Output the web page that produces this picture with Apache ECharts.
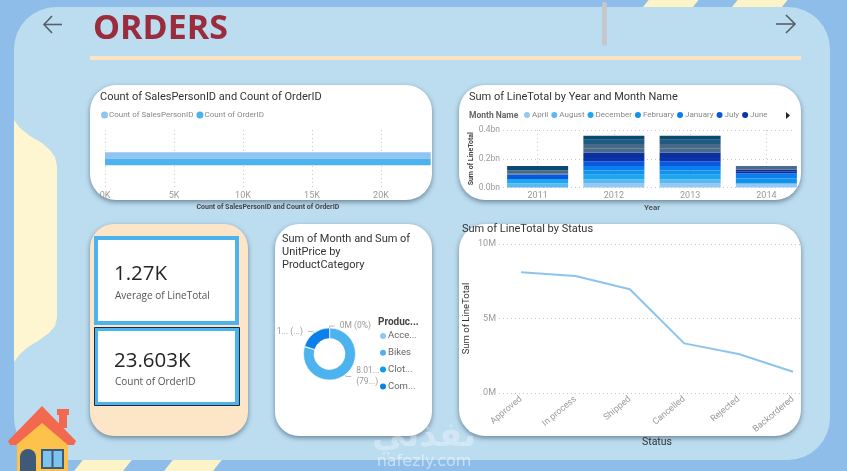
<!DOCTYPE html>
<html><head><meta charset="utf-8">
<style>html,body{margin:0;padding:0;background:#8dbde8}#c{width:847px;height:471px}</style>
<script src="https://cdn.jsdelivr.net/npm/echarts@6/dist/echarts.min.js"></script>
</head><body><div id="c"></div>
<script>
const F='Roboto', FB='"Open Sans"';
const countLabels=['Count of SalesPersonID','Count of OrderID'];
const countValues=[23603,23603];
const years=['2011','2012','2013','2014'];
const monthNames=['April','August','December','February','January','July','June','March','May','November','October','September'];
const monthColors=['#93c9f4','#5cb8f0','#1ea6f0','#0f94ee','#0a7eec','#0a58e0','#0c34a8','#0c2f9e','#4c6b8a','#466a88','#1f5a80','#0b4a70'];
const apr=[0,.028,.028,.028], aug=[.03,.03,.03,0], dec=[.03,.03,.03,0], feb=[0,.03,.03,.035], jan=[0,.032,.032,.035], jul=[.03,.033,.033,0],
      jun=[0,.03,.03,.012], mar=[0,.03,.03,.015], may=[.01,.03,.03,.025], nov=[.02,.03,.03,0], oct=[0,.03,.03,0], sep=[.03,.027,.027,0];
const monthValues=[apr,aug,dec,feb,jan,jul,jun,mar,may,nov,oct,sep];
const categories=['Accessories','Bikes','Clothing','Components'];
const categoryShort=['Acce...','Bikes','Clot...','Com...'];
const categoryValues=[0.02,8.01,0.03,2.04];
const categoryLabels=['0M (0%)','8.01...\n(79...)','','1... (...)'];
const categoryColors=['#8fc5f2','#4db3ee','#0f9bee','#0a80e8'];
const statuses=['Approved','In process','Shipped','Cancelled','Rejected','Backordered'];
const statusValues=[8.1,7.85,6.96,3.33,2.62,1.43];

const grey='#9a9a9a', dot={lineStyle:{type:[1,3],color:'#c8c8c8',width:1}};
const card=(x,y,w,h,r,fill)=>({type:'rect',z:-5,shape:{x,y,width:w,height:h,r},style:{fill:fill||'#fff',shadowBlur:5,shadowOffsetY:2,shadowColor:'rgba(40,60,80,.55)'}});
const txt=(x,y,text,size,color,extra)=>({type:'text',z:20,x,y,style:Object.assign({text,fontSize:size,fill:color,fontFamily:F,verticalAlign:'middle'},extra||{})});
const rect=(x,y,w,h,fill,extra)=>({type:'rect',z:-4,shape:{x,y,width:w,height:h},style:Object.assign({fill},extra||{})});
const stripe=(x,y,w,h)=>({type:'polygon',z:-9,shape:{points:[[x+h*.8,y],[x+w+h*.8,y],[x+w,y+h],[x,y+h]]},style:{fill:'#fdf3c8'}});
const arrow=(pts)=>({type:'polyline',z:20,shape:{points:pts},style:{stroke:'#55606b',lineWidth:1.6,fill:null}});

const graphic=[
 Object.assign(rect(0,0,847,471,'#8dbde8',{}),{z:-10}),
 stripe(643,0,50,7),stripe(732,0,50,7),stripe(74,460,49,11),stripe(164,460,49,11),
 {type:'rect',z:-8,shape:{x:14,y:7,width:816,height:453,r:[42,42,42,42]},style:{fill:'#bcdcf0'}},
 {type:'polygon',z:-7,shape:{points:[[14,120],[20,128],[30,136],[42,143],[50,150],[55,157],[57,166],[57,318],[55,326],[49,333],[38,341],[28,347],[20,354],[14,362]]},style:{fill:'#fdf6d0'}},
 rect(90,56,711,4,'#fde3c4'),
 {type:'rect',z:-4,shape:{x:602,y:2,width:5,height:44,r:2.5},style:{fill:'#c4c8cc'}},
 arrow([[52,16],[44,24.5],[52,33]]),arrow([[44,24.5],[62,24.5]]),
 arrow([[786,15],[795,24],[786,33]]),arrow([[776,24],[795,24]]),
 txt(93,29.5,'ORDERS',34,'#9b2c3e',{fontFamily:FB,fontWeight:'bold'}),
 card(90,85,342,115,26),card(459,85,342,115,26),card(90,224,158,212,24,'#fde6c8'),card(275,224,157,212,24),card(459,224,342,212,26),
 txt(100,97.5,'Count of SalesPersonID and Count of OrderID',11,'#333'),
 txt(469,97.5,'Sum of LineTotal by Year and Month Name',11,'#333'),
 txt(469,115.5,'Month Name',8.5,'#666',{fontWeight:'bold'}),
 {type:'polygon',z:20,shape:{points:[[786,112],[790,115.5],[786,119]]},style:{fill:'#222'}},
 txt(282,239.5,'Sum of Month and Sum of',11,'#333'),
 txt(282,252,'UnitPrice by',11,'#333'),
 txt(282,265,'ProductCategory',11,'#333'),
 txt(378,322,'Produc...',10,'#444',{fontWeight:'bold'}),
 txt(462,229.5,'Sum of LineTotal by Status',11,'#333'),
 // KPI cards
 {type:'rect',z:-3,shape:{x:96,y:238,width:141,height:85},style:{fill:'#fff',stroke:'#4db3ee',lineWidth:4}},
 {type:'rect',z:-3,shape:{x:94.5,y:327.5,width:145,height:78},style:{fill:'#4db3ee',stroke:'#1c2b36',lineWidth:1}},
 Object.assign(rect(98,331,137,71,'#fff',{}),{z:-2}),
 txt(114,274.5,'1.27K',20.5,'#252525',{fontFamily:FB}),
 txt(115,296,'Average of LineTotal',10,'#555',{fontFamily:FB}),
 txt(114,361,'23.603K',20.5,'#252525',{fontFamily:FB}),
 txt(115,382,'Count of OrderID',10,'#555',{fontFamily:FB}),
 // house
 {type:'polygon',z:30,shape:{points:[[17,436],[42,414],[68,436],[68,471],[17,471]]},style:{fill:'#fdc24c'}},
 {type:'rect',z:30,shape:{x:57,y:409,width:12,height:6},style:{fill:'#f2694f'}},
 {type:'rect',z:30,shape:{x:59,y:412,width:8,height:16},style:{fill:'#f2694f'}},
 {type:'polygon',z:31,shape:{points:[[8,441],[42,406],[76,441],[74,445],[68,445],[42,423],[16,445],[10,445]]},style:{fill:'#f2694f'}},
 {type:'rect',z:31,shape:{x:20,y:449,width:16,height:22,r:[8,8,0,0]},style:{fill:'#3f5a78'}},
 {type:'rect',z:31,shape:{x:42,y:450,width:21,height:18},style:{fill:'#7cc4ee',stroke:'#3f5a78',lineWidth:2}},
 {type:'rect',z:32,shape:{x:51.5,y:450,width:2,height:18},style:{fill:'#3f5a78'}},
 // watermark
 txt(424,437,'نفذلي',34,'rgba(255,255,255,.32)',{fontFamily:'DejaVu Sans',fontWeight:'bold',align:'center'}),
 txt(424,462,'nafezly.com',16,'rgba(255,255,255,.5)',{fontFamily:'DejaVu Sans',align:'center'})
];

const monthSeries=monthNames.map((n,i)=>({name:n,type:'bar',stack:'m',xAxisIndex:1,yAxisIndex:1,barWidth:61,z:3,itemStyle:{color:monthColors[i]},data:monthValues[i]}));

const option={
 animation:false,
 textStyle:{fontFamily:F},
 graphic:{elements:graphic},
 legend:[
  {left:101,top:111,itemWidth:7,itemHeight:7,itemGap:3,icon:'circle',padding:0,data:countLabels,textStyle:{fontSize:8,color:'#888',padding:[0,0,0,-4]}},
  {left:524,top:111,itemWidth:6,itemHeight:6,itemGap:3,icon:'circle',padding:0,data:monthNames.slice(0,7),textStyle:{fontSize:8,color:'#888',padding:[0,0,0,-3]}},
  {left:378,top:331,orient:'vertical',itemWidth:8,itemHeight:8,itemGap:6.8,icon:'circle',padding:0,data:categories,
   formatter:n=>categoryShort[categories.indexOf(n)],textStyle:{fontSize:9.5,color:'#666',padding:[0,0,0,-4]}}
 ],
 grid:[
  {left:105,width:325.7,top:130,height:57.5},
  {left:499.5,width:305,top:130,height:57.5},
  {left:503,width:292,top:130,height:57.5},
  {left:521,width:272,top:244,height:149},
  {left:499,width:301,top:244,height:149}
 ],
 xAxis:[
  {gridIndex:0,type:'value',min:0,max:23603,interval:5000,axisLine:{show:false},axisTick:{show:false},
   splitLine:Object.assign({showMaxLine:false},dot),
   axisLabel:{showMaxLabel:false,color:grey,fontSize:9,margin:4,formatter:v=>v/1000+'K'},
   name:'Count of SalesPersonID and Count of OrderID',nameLocation:'middle',nameGap:16,nameTextStyle:{fontSize:7,color:'#444',fontWeight:'bold'}},
  {gridIndex:1,type:'category',data:years,axisLine:{show:false},axisTick:{show:false},
   splitLine:Object.assign({show:true,alignWithLabel:true},dot),
   axisLabel:{color:grey,fontSize:9,margin:4},
   name:'Year',nameLocation:'middle',nameGap:16,nameTextStyle:{fontSize:8,color:'#555',fontWeight:'bold'}},
  {gridIndex:2,type:'value',show:false,min:0,max:1},
  {gridIndex:3,type:'category',data:statuses,boundaryGap:false,axisLine:{show:false},axisTick:{show:false},splitLine:{show:false},
   axisLabel:{color:grey,fontSize:9,rotate:40,margin:5,interval:0,showMinLabel:true,showMaxLabel:true,hideOverlap:false},
   name:'Status',nameLocation:'middle',nameGap:38,nameTextStyle:{fontSize:10.5,color:'#333'}},
  {gridIndex:4,type:'value',show:false,min:0,max:1}
 ],
 yAxis:[
  {gridIndex:0,type:'category',inverse:true,data:['Total'],show:false},
  {gridIndex:1,type:'value',min:0,max:.4,interval:.2,show:false},
  {gridIndex:2,type:'value',min:0,max:.4,interval:.2,axisLine:{show:false},axisTick:{show:false},splitLine:dot,
   axisLabel:{color:grey,fontSize:8.5,margin:3,formatter:v=>v.toFixed(1)+'bn'},
   name:'Sum of LineTotal',nameLocation:'middle',nameGap:25,nameTextStyle:{fontSize:7,color:'#444',fontWeight:'bold'}},
  {gridIndex:3,type:'value',min:0,max:10,interval:5,show:false},
  {gridIndex:4,type:'value',min:0,max:10,interval:5,axisLine:{show:false},axisTick:{show:false},splitLine:dot,
   axisLabel:{color:grey,fontSize:9,margin:3,formatter:v=>v+'M'},
   name:'Sum of LineTotal',nameLocation:'middle',nameGap:27,nameTextStyle:{fontSize:9.5,color:'#333'}}
 ],
 series:[
  {name:countLabels[0],type:'bar',xAxisIndex:0,yAxisIndex:0,barWidth:6.5,barGap:0,itemStyle:{color:'#8fc5f2'},data:[countValues[0]]},
  {name:countLabels[1],type:'bar',xAxisIndex:0,yAxisIndex:0,barWidth:6.5,barGap:0,itemStyle:{color:'#4db3ee'},data:[countValues[1]]},
  ...monthSeries,
  {type:'pie',center:[329.5,354],radius:[15.5,26],startAngle:90,clockwise:true,minAngle:0,avoidLabelOverlap:false,
   itemStyle:{borderColor:'#fff',borderWidth:.6},
   label:{fontSize:8.5,color:'#999',lineHeight:11,padding:0,formatter:p=>categoryLabels[p.dataIndex]},
   labelLine:{length:2,length2:5,lineStyle:{color:'#aaa',width:.8}},
   data:categories.map((n,i)=>({name:n,value:categoryValues[i],itemStyle:{color:categoryColors[i]},label:{show:!!categoryLabels[i]},labelLine:{show:!!categoryLabels[i]}}))},
  {name:'Sum of LineTotal',type:'line',xAxisIndex:3,yAxisIndex:3,showSymbol:false,symbol:'none',lineStyle:{color:'#8cc4f0',width:2},data:statusValues}
 ]
};
const chart=echarts.init(document.getElementById('c'),null,{renderer:'canvas'});
chart.setOption(option);
</script></body></html>
